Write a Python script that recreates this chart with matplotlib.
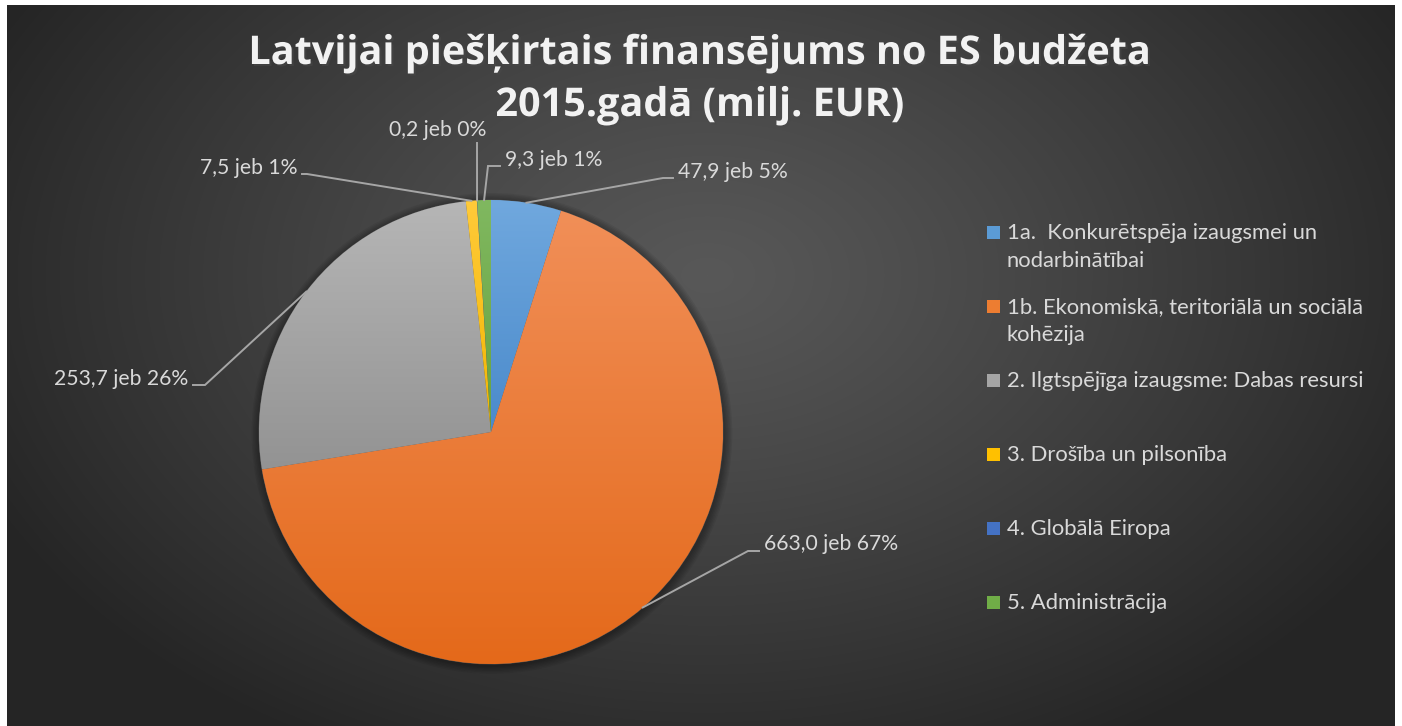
import numpy as np
import matplotlib.pyplot as plt
import matplotlib.patheffects as pe
from matplotlib.colors import LinearSegmentedColormap
from matplotlib.patches import Rectangle

# data
categories = ['1a.  Konkurētspēja izaugsmei un\nnodarbinātībai',
              '1b. Ekonomiskā, teritoriālā un sociālā\nkohēzija',
              '2. Ilgtspējīga izaugsme: Dabas resursi',
              '3. Drošība un pilsonība',
              '4. Globālā Eiropa',
              '5. Administrācija']
values = [47.9, 663.0, 253.7, 7.5, 0.2, 9.3]
shares = [5, 67, 26, 1, 0, 1]  # percentages as printed on the chart

# (top, bottom) gradient colours for each slice
colors_top = ['#70A8DE', '#F18F58', '#B6B6B6', '#FFCA3A', '#5080CC', '#80B860']
colors_bot = ['#4A8ACB', '#E4691A', '#939393', '#F2B600', '#3D68B8', '#66A23E']
colors_mid = ['#5B9BD5', '#ED7D31', '#A5A5A5', '#FFC000', '#4472C4', '#70AD47']

title = 'Latvijai piešķirtais finansējums no ES budžeta\n2015.gadā (milj. EUR)'

plt.rcParams['font.family'] = ['Lato', 'DejaVu Sans']

W, H = 1402, 726
fig = plt.figure(figsize=(W / 100, H / 100), dpi=100, facecolor='white')
renderer = fig.canvas.get_renderer()

# dark background panel with a radial gradient
bg = fig.add_axes([7 / W, 0, 1388 / W, 721 / H])
yy, xx = np.mgrid[0:721, 0:1388]
d = np.sqrt(((xx - 700) / 800.0) ** 2 + ((yy - 270) / 540.0) ** 2)
d = np.clip(d, 0, 1)
c0, c1 = 0x58 / 255, 0x25 / 255
shade = c0 + (c1 - c0) * d ** 1.15
bg.imshow(np.dstack([shade, shade, shade]), aspect='auto', interpolation='bilinear')
bg.axis('off')

# pie axes: 1 data unit = R pixels, centre at (cx, cy) in image pixels
R, cx, cy = 232.0, 491.0, 432.0
ax = fig.add_axes([0, 0, 1, 1])
ax.patch.set_visible(False)


def px(x, y):
    return (x - cx) / R, (cy - y) / R


wedges, _ = ax.pie(values, colors=colors_mid, startangle=90, counterclock=False,
                   radius=1.0, wedgeprops=dict(linewidth=0.6, edgecolor='#505050'))

# soft shadow around the pie
for k in range(6):
    ax.add_patch(plt.Circle((0.004, -0.006), 1.0 + 0.006 * (k + 1), color='black',
                            alpha=0.06, zorder=0.5, lw=0))

# vertical gradient inside each slice
grad = np.linspace(0, 1, 256).reshape(-1, 1)
for w, ct, cb in zip(wedges, colors_top, colors_bot):
    ext = w.get_path().get_extents()
    cmap = LinearSegmentedColormap.from_list('g', [cb, ct])
    im = ax.imshow(grad, cmap=cmap, origin='lower', aspect='auto',
                   extent=(ext.x0, ext.x1, ext.y0, ext.y1), zorder=w.get_zorder() + 0.1)
    im.set_clip_path(w)

ax.set_xlim(-cx / R, (W - cx) / R)
ax.set_ylim(-(H - cy) / R, cy / R)
ax.set_aspect('auto')
ax.axis('off')

# data labels with leader lines: (elbow px, end px, text x px, baseline px)
label_layout = [
    ((663, 178), (673, 178), 678, 177.5),
    ((748, 551), (759, 551), 764, 550.5),
    ((205, 385), (193, 385), 188, 385),
    ((307, 174), (302, 174), 298, 174.5),
    ((477, 143), (477, 143), 438, 136.5),
    ((488, 166), (500, 166), 505, 166),
]
for w, v, s, (elb, end, tx, ty) in zip(wedges, values, shares, label_layout):
    mid = np.deg2rad((w.theta1 + w.theta2) / 2)
    x0, y0 = np.cos(mid), np.sin(mid)
    ex, ey = px(*elb)
    nx, ny = px(*end)
    ax.plot([x0, ex, nx], [y0, ey, ny], color='#A6A6A6', lw=1.4, zorder=5,
            solid_joinstyle='miter')
    txt = ('%.1f' % v).replace('.', ',') + ' jeb %d%%' % s
    tdx, tdy = px(tx, ty)
    if end[0] < elb[0]:
        ha = 'right'
    elif end == elb:
        ha = 'center'
    else:
        ha = 'left'
    ax.text(tdx, tdy, txt, ha=ha, va='baseline', fontsize=15.2, color='#D9D9D9', zorder=6)

# title, sized so the first line spans about the same width as in the original
title_lines = title.split('\n')
shadow = [pe.withSimplePatchShadow(offset=(1.5, -1.5), alpha=0.55)]
t1 = fig.text(700 / W, 1 - 64 / H, title_lines[0], ha='center', va='baseline',
              fontsize=26, fontweight='bold', color='#F2F2F2',
              family=['Open Sans', 'DejaVu Sans'], path_effects=shadow)
fs = 26 * 905.0 / t1.get_window_extent(renderer).width
t1.set_fontsize(fs)
fig.text(700 / W, 1 - 116 / H, title_lines[1], ha='center', va='baseline',
         fontsize=fs, fontweight='bold', color='#F2F2F2',
         family=['Open Sans', 'DejaVu Sans'], path_effects=shadow)

# legend drawn by hand to keep Excel's even spacing
leg_texts = []
for i, (name, col) in enumerate(zip(categories, colors_mid)):
    yc = 232.7 + i * 74
    fig.patches.append(Rectangle((987 / W, 1 - (yc + 6.5) / H), 13 / W, 13 / H,
                                 transform=fig.transFigure, facecolor=col, edgecolor='none'))
    for j, line in enumerate(name.split('\n')):
        leg_texts.append(fig.text(1007 / W, 1 - (239.3 + i * 74 + j * 28) / H, line,
                                  ha='left', va='baseline', fontsize=14.7, color='#D9D9D9'))
# widest legend line spans ~358 px in the original
lw_max = max(t.get_window_extent(renderer).width for t in leg_texts)
for t in leg_texts:
    t.set_fontsize(14.7 * 356.0 / lw_max)

fig.savefig('out.png', dpi=100, facecolor='white')
